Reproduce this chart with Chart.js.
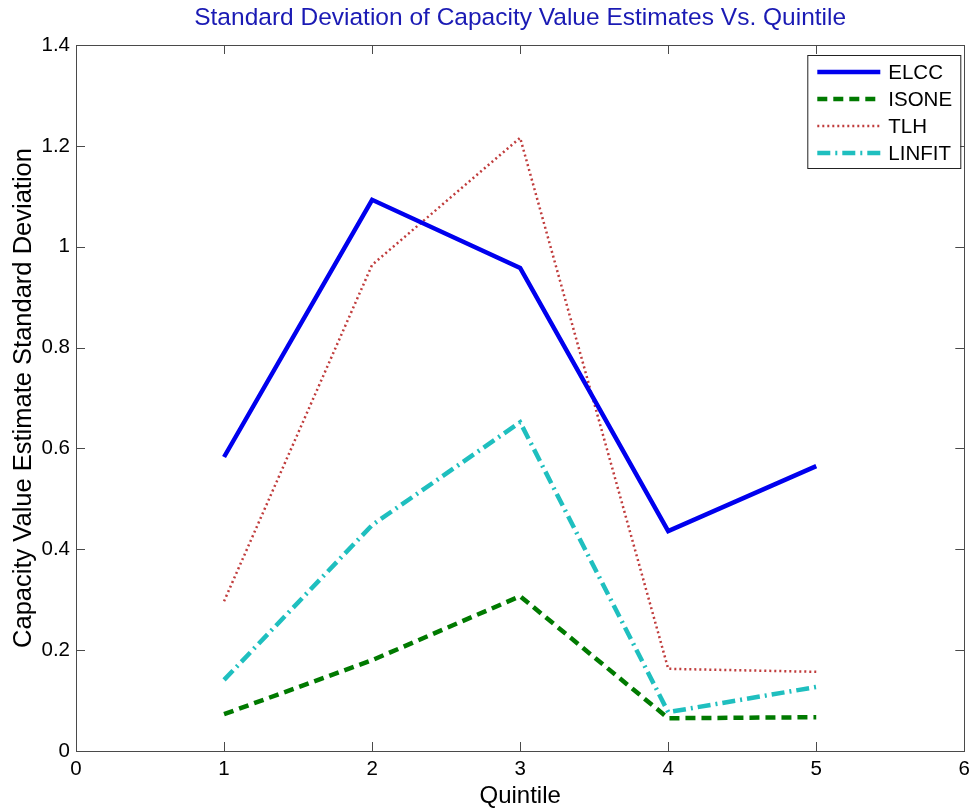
<!DOCTYPE html>
<html>
<head>
<meta charset="utf-8">
<script src="https://cdn.jsdelivr.net/npm/chart.js@4"></script>
<style>
  html, body { margin: 0; padding: 0; background: #fff; }
  #wrap { width: 976px; height: 811px; }
</style>
</head>
<body>
<div id="wrap"><canvas id="chart" width="976" height="811"></canvas></div>
<script>
// Quintile positions and std-dev of capacity value estimates
const quintiles = [1, 2, 3, 4, 5];
const elcc   = [0.583, 1.093, 0.958, 0.436, 0.565];
const isone  = [0.073, 0.180, 0.307, 0.065, 0.067];
const tlh    = [0.297, 0.964, 1.216, 0.163, 0.157];
const linfit = [0.141, 0.448, 0.652, 0.077, 0.127];

const xTicks = [0, 1, 2, 3, 4, 5, 6];
const yTicks = [0, 0.2, 0.4, 0.6, 0.8, 1, 1.2, 1.4];

const FONT = "'Liberation Sans', Arial, sans-serif";

function toPoints(values) {
    return quintiles.map((q, i) => ({ x: q, y: values[i] }));
}

// Box frame with inward ticks on all four sides (MATLAB look)
const frameTicks = {
    id: "frameTicks",
    afterDatasetsDraw(chart) {
        const ctx = chart.ctx;
        const a = chart.chartArea;
        const xs = chart.scales.x, ys = chart.scales.y;
        const len = 9;
        ctx.save();
        ctx.strokeStyle = "#4a4a4a";
        ctx.lineWidth = 1;
        ctx.beginPath();
        xTicks.forEach(v => {
            const px = Math.round(xs.getPixelForValue(v)) + 0.5;
            ctx.moveTo(px, a.bottom); ctx.lineTo(px, a.bottom - len);
            ctx.moveTo(px, a.top); ctx.lineTo(px, a.top + len);
        });
        yTicks.forEach(v => {
            const py = Math.round(ys.getPixelForValue(v)) + 0.5;
            ctx.moveTo(a.left, py); ctx.lineTo(a.left + len, py);
            ctx.moveTo(a.right, py); ctx.lineTo(a.right - len, py);
        });
        ctx.stroke();
        ctx.strokeRect(Math.round(a.left) + 0.5, Math.round(a.top) + 0.5,
            Math.round(a.right - a.left), Math.round(a.bottom - a.top));
        ctx.restore();
    }
};

// Legend box in the upper right corner of the plot
const boxLegend = {
    id: "boxLegend",
    afterDraw(chart) {
        const ctx = chart.ctx;
        const a = chart.chartArea;
        const right = a.right - 4, top = a.top + 10;
        const w = 153, rowH = 27;
        const h = rowH * chart.data.datasets.length + 5;
        const left = right - w;
        ctx.save();
        ctx.fillStyle = "#fff";
        ctx.fillRect(left, top, w, h);
        ctx.strokeStyle = "#222";
        ctx.lineWidth = 1;
        ctx.strokeRect(left + 0.5, top + 0.5, w, h);
        ctx.font = "20.5px " + FONT;
        ctx.textBaseline = "middle";
        chart.data.datasets.forEach((ds, i) => {
            const y = top + 17 + i * rowH;
            ctx.strokeStyle = ds.borderColor;
            ctx.lineWidth = ds.borderWidth;
            ctx.setLineDash(ds.borderDash || []);
            ctx.beginPath();
            ctx.moveTo(left + 10, y);
            ctx.lineTo(left + 73, y);
            ctx.stroke();
            ctx.setLineDash([]);
            ctx.fillStyle = "#000";
            ctx.fillText(ds.label, left + 81, y + 1);
        });
        ctx.restore();
    }
};

const chart = new Chart(document.getElementById("chart").getContext("2d"), {
    type: "line",
    data: {
        datasets: [
            { label: "ELCC", data: toPoints(elcc), borderColor: "#0000ee", borderWidth: 4.5 },
            { label: "ISONE", data: toPoints(isone), borderColor: "#007a00", borderWidth: 4.5, borderDash: [10, 6] },
            { label: "TLH", data: toPoints(tlh), borderColor: "#c03c3c", borderWidth: 2.5, borderDash: [2, 3] },
            { label: "LINFIT", data: toPoints(linfit), borderColor: "#1fbfbf", borderWidth: 4.5, borderDash: [13, 5, 2, 5] }
        ]
    },
    options: {
        responsive: false,
        animation: false,
        devicePixelRatio: 1,
        layout: { padding: { left: 0, right: 10, top: 0, bottom: 0 } },
        elements: { point: { radius: 0 }, line: { tension: 0, borderCapStyle: "butt" } },
        plugins: {
            legend: { display: false },
            tooltip: { enabled: false },
            title: {
                display: true,
                fullSize: false,
                text: "Standard Deviation of Capacity Value Estimates Vs. Quintile",
                color: "#1a1ab4",
                font: { family: FONT, size: 24.5, weight: "normal", lineHeight: 1.2 },
                padding: { top: 4, bottom: 11.6 }
            }
        },
        scales: {
            x: {
                type: "linear",
                min: 0, max: 6,
                afterFit(s) { s.height = 60; },
                afterBuildTicks(s) { s.ticks = xTicks.map(v => ({ value: v })); },
                grid: { display: false, drawTicks: false },
                border: { display: false },
                ticks: { color: "#000", padding: 6, font: { family: FONT, size: 20.5 } },
                title: { display: true, text: "Quintile", color: "#000", padding: { top: 0, bottom: 0 },
                    font: { family: FONT, size: 24, lineHeight: 1.2 } }
            },
            y: {
                type: "linear",
                min: 0, max: 1.4,
                afterFit(s) { s.width = 76; },
                afterBuildTicks(s) { s.ticks = yTicks.map(v => ({ value: v })); },
                grid: { display: false, drawTicks: false },
                border: { display: false },
                ticks: {
                    color: "#000", padding: 6, font: { family: FONT, size: 20.5 },
                    callback: v => String(Number(v.toFixed(1)))
                },
                title: { display: true, text: "Capacity Value Estimate Standard Deviation", color: "#000",
                    padding: { top: 9, bottom: 0 }, font: { family: FONT, size: 25.5, lineHeight: 1.2 } }
            }
        }
    },
    plugins: [frameTicks, boxLegend]
});
</script>
</body>
</html>
